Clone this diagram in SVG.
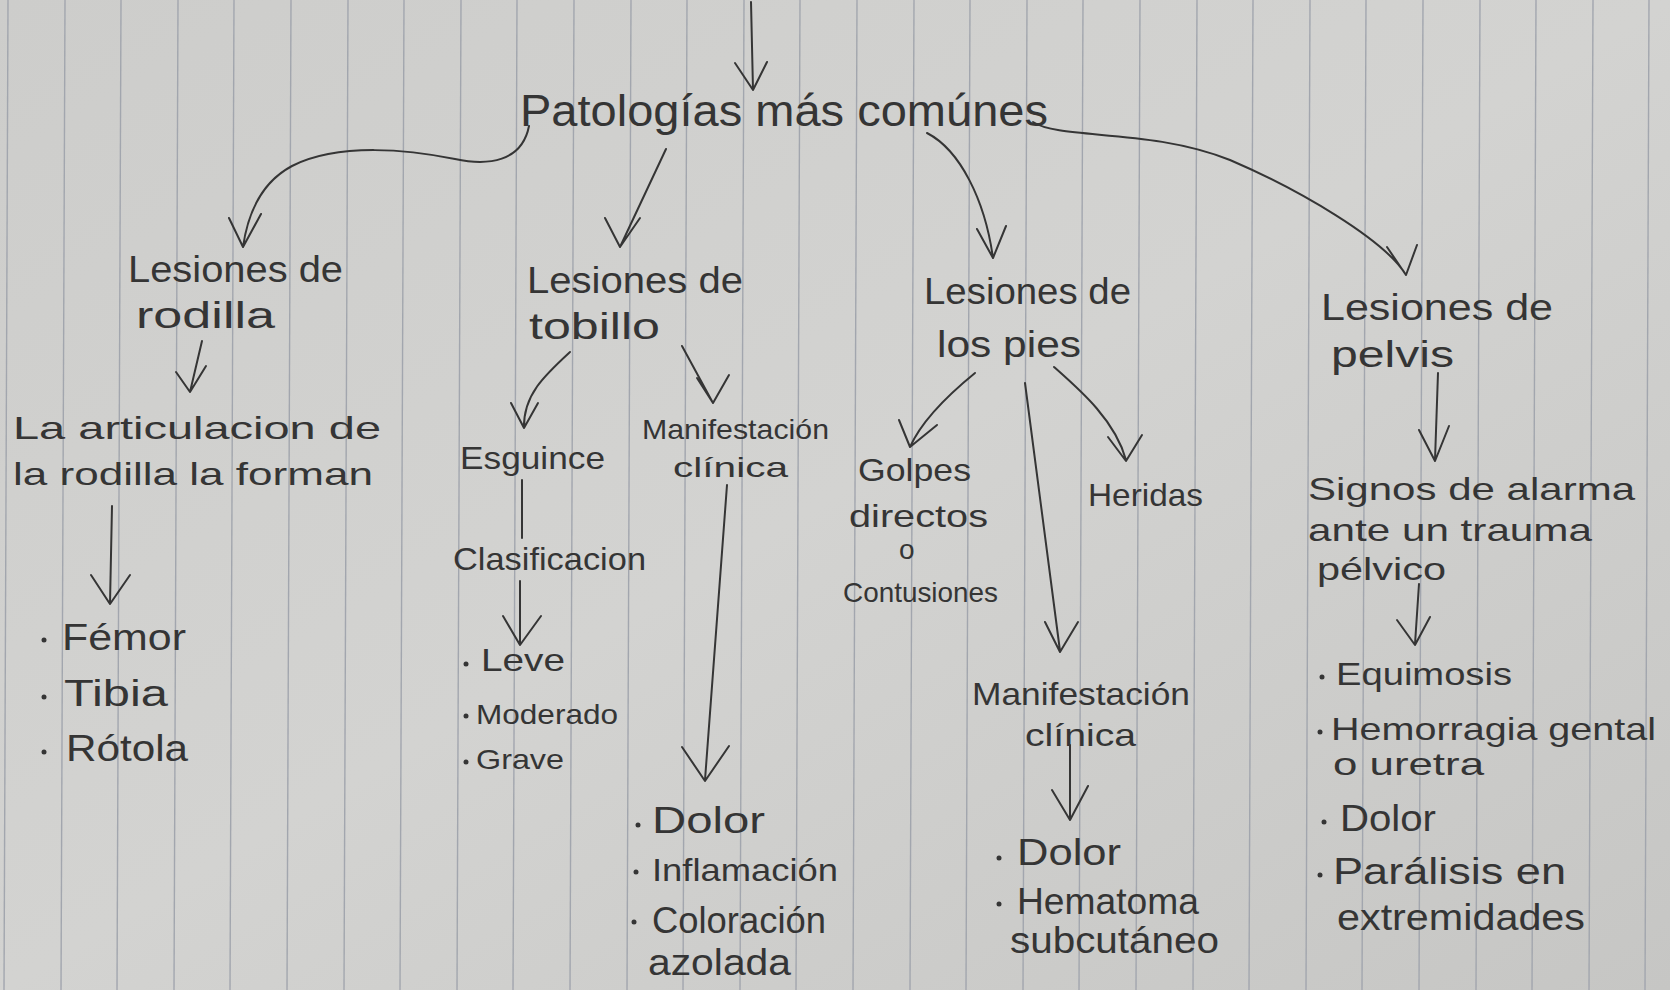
<svg xmlns="http://www.w3.org/2000/svg" width="1670" height="990" viewBox="0 0 1670 990">
<defs>
<style>
.ink{fill:#353535;font-family:"Liberation Sans","DejaVu Sans",sans-serif;}
.t44{font-size:44px;}
.t36{font-size:36px;}
.t32{font-size:32px;}
.t28{font-size:28px;}
.c{fill:none;stroke:#353535;stroke-width:2;stroke-linecap:round;stroke-linejoin:round;}
.rule{stroke:#a2a6ae;stroke-width:1.4;}
.dot{fill:#353535;}
</style>
<linearGradient id="pg" x1="0" y1="0" x2="1" y2="1">
<stop offset="0" stop-color="#cdcdcb"/>
<stop offset="0.5" stop-color="#d3d3d1"/>
<stop offset="1" stop-color="#c6c6c4"/>
</linearGradient>
</defs>
<rect width="1670" height="990" fill="url(#pg)"/>
<g id="paper-rules">
<line class="rule" x1="8" y1="0" x2="4" y2="990"/>
<line class="rule" x1="65" y1="0" x2="61" y2="990"/>
<line class="rule" x1="121" y1="0" x2="117" y2="990"/>
<line class="rule" x1="178" y1="0" x2="174" y2="990"/>
<line class="rule" x1="234" y1="0" x2="230" y2="990"/>
<line class="rule" x1="291" y1="0" x2="287" y2="990"/>
<line class="rule" x1="348" y1="0" x2="344" y2="990"/>
<line class="rule" x1="404" y1="0" x2="400" y2="990"/>
<line class="rule" x1="461" y1="0" x2="457" y2="990"/>
<line class="rule" x1="517" y1="0" x2="513" y2="990"/>
<line class="rule" x1="574" y1="0" x2="570" y2="990"/>
<line class="rule" x1="631" y1="0" x2="627" y2="990"/>
<line class="rule" x1="687" y1="0" x2="683" y2="990"/>
<line class="rule" x1="744" y1="0" x2="740" y2="990"/>
<line class="rule" x1="800" y1="0" x2="796" y2="990"/>
<line class="rule" x1="857" y1="0" x2="853" y2="990"/>
<line class="rule" x1="914" y1="0" x2="910" y2="990"/>
<line class="rule" x1="970" y1="0" x2="966" y2="990"/>
<line class="rule" x1="1027" y1="0" x2="1023" y2="990"/>
<line class="rule" x1="1083" y1="0" x2="1079" y2="990"/>
<line class="rule" x1="1140" y1="0" x2="1136" y2="990"/>
<line class="rule" x1="1197" y1="0" x2="1193" y2="990"/>
<line class="rule" x1="1253" y1="0" x2="1249" y2="990"/>
<line class="rule" x1="1310" y1="0" x2="1306" y2="990"/>
<line class="rule" x1="1366" y1="0" x2="1362" y2="990"/>
<line class="rule" x1="1423" y1="0" x2="1419" y2="990"/>
<line class="rule" x1="1480" y1="0" x2="1476" y2="990"/>
<line class="rule" x1="1536" y1="0" x2="1532" y2="990"/>
<line class="rule" x1="1593" y1="0" x2="1589" y2="990"/>
<line class="rule" x1="1649" y1="0" x2="1645" y2="990"/>
</g>
<g id="connectors">
<path class="c" d="M751,2 L753,90 M735,63 L753,90 L767,62"/>
<path class="c" d="M529,126 C522,162 488,166 455,159 C410,150 340,142 292,166 C262,182 248,212 243,247 M229,218 L243,247 L261,214"/>
<path class="c" d="M666,149 L620,247 M605,218 L620,247 L640,218"/>
<path class="c" d="M927,133 C960,150 985,200 993,258 M977,229 L993,258 L1006,226"/>
<path class="c" d="M1033,122 C1060,140 1150,128 1230,160 C1300,190 1385,240 1406,275 M1387,247 L1406,275 L1417,245"/>
<path class="c" d="M202,341 L190,392 M176,372 L190,392 L206,366"/>
<path class="c" d="M112,506 L110,604 M91,575 L110,604 L130,575"/>
<path class="c" d="M570,352 C545,375 523,395 524,428 M511,403 L524,428 L538,403"/>
<path class="c" d="M682,346 L713,403 M697,378 L713,403 L729,375"/>
<path class="c" d="M522,480 L522,538"/>
<path class="c" d="M520,581 L520,645 M503,616 L520,645 L541,616"/>
<path class="c" d="M727,485 L705,780 M682,747 L705,781 L729,746"/>
<path class="c" d="M975,373 C948,395 922,420 910,447 M899,420 L910,447 L937,425"/>
<path class="c" d="M1025,383 L1060,651 M1045,622 L1060,652 L1078,622"/>
<path class="c" d="M1054,367 C1080,390 1115,420 1126,460 M1108,437 L1126,461 L1142,435"/>
<path class="c" d="M1438,373 L1435,460 M1419,430 L1435,461 L1449,426"/>
<path class="c" d="M1419,584 L1415,644 M1397,620 L1415,645 L1430,617"/>
<path class="c" d="M1070,745 L1070,819 M1052,790 L1070,820 L1088,786"/>
</g>
<g id="n-titulo">
<text class="ink t44" x="520" y="126" textLength="528" lengthAdjust="spacingAndGlyphs">Patologías más comúnes</text>
</g>
<g id="n-rodilla">
<text class="ink t36" x="128" y="282" textLength="215" lengthAdjust="spacingAndGlyphs">Lesiones de</text>
<text class="ink t36" x="136" y="328" textLength="139" lengthAdjust="spacingAndGlyphs">rodilla</text>
</g>
<g id="n-tobillo">
<text class="ink t36" x="527" y="293" textLength="216" lengthAdjust="spacingAndGlyphs">Lesiones de</text>
<text class="ink t36" x="529" y="339" textLength="131" lengthAdjust="spacingAndGlyphs">tobillo</text>
</g>
<g id="n-pies">
<text class="ink t36" x="924" y="304" textLength="207" lengthAdjust="spacingAndGlyphs">Lesiones de</text>
<text class="ink t36" x="937" y="357" textLength="144" lengthAdjust="spacingAndGlyphs">los pies</text>
</g>
<g id="n-pelvis">
<text class="ink t36" x="1321" y="320" textLength="232" lengthAdjust="spacingAndGlyphs">Lesiones de</text>
<text class="ink t36" x="1331" y="367" textLength="123" lengthAdjust="spacingAndGlyphs">pelvis</text>
</g>
<g id="n-articulacion">
<text class="ink t32" x="13" y="439" textLength="368" lengthAdjust="spacingAndGlyphs">La articulacion de</text>
<text class="ink t32" x="13" y="485" textLength="360" lengthAdjust="spacingAndGlyphs">la rodilla la forman</text>
</g>
<g id="n-huesos">
<circle class="dot" cx="44" cy="640" r="2.5"/>
<text class="ink t36" x="62" y="650" textLength="124" lengthAdjust="spacingAndGlyphs">Fémor</text>
<circle class="dot" cx="44" cy="697" r="2.5"/>
<text class="ink t36" x="64" y="706" textLength="104" lengthAdjust="spacingAndGlyphs">Tibia</text>
<circle class="dot" cx="44" cy="752" r="2.5"/>
<text class="ink t36" x="66" y="761" textLength="122" lengthAdjust="spacingAndGlyphs">Rótola</text>
</g>
<g id="n-esguince">
<text class="ink t32" x="460" y="469" textLength="145" lengthAdjust="spacingAndGlyphs">Esguince</text>
</g>
<g id="n-manif-tobillo">
<text class="ink t28" x="642" y="439" textLength="187" lengthAdjust="spacingAndGlyphs">Manifestación</text>
<text class="ink t28" x="673" y="477" textLength="115" lengthAdjust="spacingAndGlyphs">clínica</text>
</g>
<g id="n-clasificacion">
<text class="ink t32" x="453" y="570" textLength="193" lengthAdjust="spacingAndGlyphs">Clasificacion</text>
</g>
<g id="n-grados">
<circle class="dot" cx="466" cy="664" r="2.5"/>
<text class="ink t32" x="481" y="671" textLength="84" lengthAdjust="spacingAndGlyphs">Leve</text>
<circle class="dot" cx="466" cy="716" r="2.5"/>
<text class="ink t30 t28" x="476" y="724" textLength="142" lengthAdjust="spacingAndGlyphs">Moderado</text>
<circle class="dot" cx="466" cy="762" r="2.5"/>
<text class="ink t28" x="476" y="769" textLength="88" lengthAdjust="spacingAndGlyphs">Grave</text>
</g>
<g id="n-sintomas-tobillo">
<circle class="dot" cx="638" cy="825" r="2.5"/>
<text class="ink t36" x="652" y="833" textLength="113" lengthAdjust="spacingAndGlyphs">Dolor</text>
<circle class="dot" cx="636" cy="872" r="2.5"/>
<text class="ink t32" x="652" y="881" textLength="186" lengthAdjust="spacingAndGlyphs">Inflamación</text>
<circle class="dot" cx="634" cy="922" r="2.5"/>
<text class="ink t36" x="652" y="933" textLength="174" lengthAdjust="spacingAndGlyphs">Coloración</text>
<text class="ink t36" x="648" y="975" textLength="143" lengthAdjust="spacingAndGlyphs">azolada</text>
</g>
<g id="n-golpes">
<text class="ink t32" x="858" y="481" textLength="113" lengthAdjust="spacingAndGlyphs">Golpes</text>
<text class="ink t32" x="849" y="527" textLength="139" lengthAdjust="spacingAndGlyphs">directos</text>
<text class="ink t28" x="899" y="559">o</text>
<text class="ink t28" x="843" y="602" textLength="155" lengthAdjust="spacingAndGlyphs">Contusiones</text>
</g>
<g id="n-heridas">
<text class="ink t32" x="1088" y="506" textLength="115" lengthAdjust="spacingAndGlyphs">Heridas</text>
</g>
<g id="n-manif-pies">
<text class="ink t32" x="972" y="705" textLength="218" lengthAdjust="spacingAndGlyphs">Manifestación</text>
<text class="ink t32" x="1025" y="746" textLength="111" lengthAdjust="spacingAndGlyphs">clínica</text>
</g>
<g id="n-sintomas-pies">
<circle class="dot" cx="999" cy="858" r="2.5"/>
<text class="ink t36" x="1017" y="865" textLength="104" lengthAdjust="spacingAndGlyphs">Dolor</text>
<circle class="dot" cx="999" cy="904" r="2.5"/>
<text class="ink t36" x="1017" y="914" textLength="182" lengthAdjust="spacingAndGlyphs">Hematoma</text>
<text class="ink t36" x="1010" y="953" textLength="209" lengthAdjust="spacingAndGlyphs">subcutáneo</text>
</g>
<g id="n-signos">
<text class="ink t32" x="1308" y="500" textLength="327" lengthAdjust="spacingAndGlyphs">Signos de alarma</text>
<text class="ink t32" x="1308" y="541" textLength="284" lengthAdjust="spacingAndGlyphs">ante un trauma</text>
<text class="ink t32" x="1317" y="580" textLength="129" lengthAdjust="spacingAndGlyphs">pélvico</text>
</g>
<g id="n-sintomas-pelvis">
<circle class="dot" cx="1322" cy="677" r="2.5"/>
<text class="ink t32" x="1336" y="685" textLength="176" lengthAdjust="spacingAndGlyphs">Equimosis</text>
<circle class="dot" cx="1320" cy="732" r="2.5"/>
<text class="ink t32" x="1331" y="740" textLength="325" lengthAdjust="spacingAndGlyphs">Hemorragia gental</text>
<text class="ink t32" x="1333" y="775" textLength="151" lengthAdjust="spacingAndGlyphs">o uretra</text>
<circle class="dot" cx="1324" cy="822" r="2.5"/>
<text class="ink t36" x="1340" y="831" textLength="96" lengthAdjust="spacingAndGlyphs">Dolor</text>
<circle class="dot" cx="1320" cy="875" r="2.5"/>
<text class="ink t36" x="1333" y="884" textLength="233" lengthAdjust="spacingAndGlyphs">Parálisis en</text>
<text class="ink t36" x="1337" y="930" textLength="248" lengthAdjust="spacingAndGlyphs">extremidades</text>
</g>
</svg>
